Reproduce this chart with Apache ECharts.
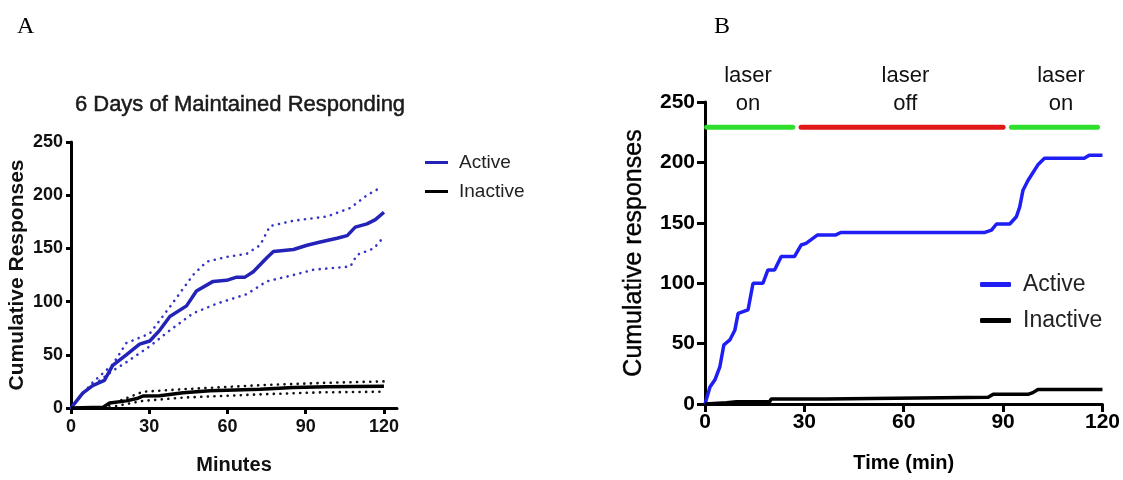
<!DOCTYPE html>
<html>
<head>
<meta charset="utf-8">
<script src="https://cdn.jsdelivr.net/npm/echarts@6/dist/echarts.min.js"></script>
<style>html,body{margin:0;padding:0;background:#fff;}#c{width:1123px;height:480px;}</style>
</head>
<body>
<div id="c"></div>
<script>
// ---------- Panel A data (minutes, cumulative responses) ----------
const A_TITLE = '6 Days of Maintained Responding';
const A_X_TICKS = [0, 30, 60, 90, 120];
const A_ACTIVE = [[0,0],[4.5,14],[8.3,21],[12.8,26],[16,40],[21.2,50],[26.3,60],[30.2,63],[34,73],[37.9,86],[44.3,96],[48.1,110],[54.5,119],[59.7,120],[63.5,123],[66.7,123],[69.9,128],[75,141],[77.6,147],[85.3,149],[90.5,153],[95.6,156],[102,159.5],[105.9,162],[109,170],[113.5,173],[116.7,177],[120,184]];
const A_ACTIVE_UPPER = [[0,0],[4,12],[8.3,24],[16,41],[21.2,61],[30.2,70],[37.9,95],[46.8,125],[52,137.5],[59.7,142],[67.4,145],[72.5,153],[76.3,171],[85.3,176],[98.2,180],[107.1,188],[113.5,200],[119.3,208]];
const A_ACTIVE_LOWER = [[0,0],[4,13],[8.3,21],[16,35],[21.2,43],[30.2,58],[37.9,73],[46.8,89],[55.8,98],[67.4,107],[75,119],[85.3,125],[93,130],[107.1,133],[109.7,144],[116.1,150],[119.3,159]];
const A_INACTIVE = [[0,0],[12.2,0.6],[14.8,4.6],[21.2,6.7],[25.7,9.2],[27.6,11.3],[34,11.6],[43,14.4],[53.2,16.2],[72.5,17.7],[85.3,19.3],[98.2,19.9],[120,20.5]];
const A_INACTIVE_UPPER = [[12.2,0.6],[21.2,9.2],[27.6,15.3],[43,17.7],[72.5,21.4],[95.6,23.5],[120,25]];
const A_INACTIVE_LOWER = [[14.8,0.6],[27.6,6.7],[43,9.8],[72.5,12.8],[95.6,14.7],[120,15.3]];

// ---------- Panel B data (minutes, cumulative responses) ----------
const B_ACTIVE = [[0,0],[1.5,14],[3,20],[4.5,31],[5.7,49],[7.5,53],[9,61],[10,75],[13,78],[14.5,100],[17.5,100],[19,111],[21,111],[23,122],[27,122],[29,131.6],[30.5,133],[34,140],[39.5,140],[41,142],[84.5,142],[86.5,144],[88,149],[92,149],[94,155],[95,163],[96,177],[97.5,185],[100.5,198],[102.5,203.5],[114.5,203.5],[116,206],[120,206]];
const B_INACTIVE = [[0,0],[6.5,1.1],[9.5,1.9],[19.5,1.9],[20,4.1],[36.5,4.1],[37,5.5],[85.5,5.5],[87,8],[97.5,8],[99,9.4],[100.5,12],[120,12]];
const LASER_Y = 229;
const LASER_ON_1 = [[0.5,LASER_Y],[26.5,LASER_Y]];
const LASER_OFF = [[29,LASER_Y],[90,LASER_Y]];
const LASER_ON_2 = [[92.5,LASER_Y],[118.5,LASER_Y]];
const LASER_LABELS = [{x:13, text:'laser\non'}, {x:60.5, text:'laser\noff'}, {x:107.5, text:'laser\non'}];
const Y_MAX = 250, Y_STEP = 50;

const chart = echarts.init(document.getElementById('c'));
const FA = "'Liberation Sans',Arial,sans-serif";
const FB = "'Liberation Sans',Arial,sans-serif";
const A_BLUE = '#2323b8', A_BLUE_DOT = '#3434c8', B_BLUE = '#1e1ef5';

function axisCommon(){
  return {
    axisLine:{show:true,onZero:false,lineStyle:{color:'#000',width:3}},
    axisTick:{show:true,inside:false,lineStyle:{color:'#000',width:3}},
    splitLine:{show:false}
  };
}
function lineSeries(name, data, xi, color, width, dashed){
  return {
    name:name, type:'line', xAxisIndex:xi, yAxisIndex:xi, data:data,
    showSymbol:false, symbol:'none', silent:true, animation:false, clip:false,
    lineStyle:{color:color, width:width, type: dashed ? [0.1,6.5] : 'solid', cap: dashed ? 'round':'butt'},
    z: dashed ? 2 : 3
  };
}

const option = {
  animation:false,
  title:[{
    text:A_TITLE, left:235, top:89, textAlign:'center',
    textStyle:{fontFamily:FB, fontSize:22, fontWeight:'normal', color:'#1a1a1a', textBorderColor:'#1a1a1a', textBorderWidth:0.5}
  }],
  grid:[
    {left:71, top:142, width:326, height:272},
    {left:705, top:102, width:400, height:302}
  ],
  xAxis:[
    Object.assign(axisCommon(), {
      gridIndex:0, type:'value', min:0, max:125,
      axisTick:{show:true,length:6,customValues:A_X_TICKS,lineStyle:{color:'#000',width:3}},
      axisLabel:{customValues:A_X_TICKS, margin:10, fontFamily:FA, fontWeight:'bold', fontSize:18, color:'#111'},
      name:'Minutes', nameLocation:'middle', nameGap:47,
      nameTextStyle:{fontFamily:FA, fontWeight:'bold', fontSize:20, color:'#111'}
    }),
    Object.assign(axisCommon(), {
      gridIndex:1, type:'value', min:0, max:120, interval:30,
      axisTick:{show:true,length:8,lineStyle:{color:'#000',width:3}},
      axisLabel:{margin:8, fontFamily:FB, fontWeight:'bold', fontSize:21, color:'#000'},
      name:'Time (min)', nameLocation:'middle', nameGap:49,
      nameTextStyle:{fontFamily:FB, fontWeight:'bold', fontSize:20, color:'#000'}
    })
  ],
  yAxis:[
    Object.assign(axisCommon(), {
      gridIndex:0, type:'value', min:0, max:Y_MAX, interval:Y_STEP,
      axisTick:{show:true,length:5,lineStyle:{color:'#000',width:3}},
      axisLabel:{margin:8, fontFamily:FA, fontWeight:'bold', fontSize:18, color:'#111'},
      name:'Cumulative Responses', nameLocation:'middle', nameGap:43,
      nameTextStyle:{fontFamily:FB, fontWeight:'bold', fontSize:21, color:'#111'}
    }),
    Object.assign(axisCommon(), {
      gridIndex:1, type:'value', min:0, max:Y_MAX, interval:Y_STEP,
      axisTick:{show:true,length:8,lineStyle:{color:'#000',width:3}},
      axisLabel:{margin:10, fontFamily:FB, fontWeight:'bold', fontSize:21, color:'#000'},
      name:'Cumulative responses', nameLocation:'middle', nameGap:58,
      nameTextStyle:{fontFamily:FB, fontWeight:'normal', fontSize:25, color:'#000', textBorderColor:'#000', textBorderWidth:0.4}
    })
  ],
  legend:[
    {
      left:420, top:148, orient:'vertical', itemGap:10, itemWidth:23, itemHeight:3, icon:'rect',
      selectedMode:false,
      textStyle:{fontFamily:FA, fontSize:19, color:'#222', padding:[0,0,0,6]},
      data:[{name:'Active', itemStyle:{color:A_BLUE}}, {name:'Inactive', itemStyle:{color:'#000'}}]
    },
    {
      left:975, top:268, orient:'vertical', itemGap:13, itemWidth:31, itemHeight:5, icon:'roundRect',
      selectedMode:false,
      textStyle:{fontFamily:FB, fontSize:23, color:'#222', padding:[0,0,0,7]},
      data:[{name:'Active', itemStyle:{color:B_BLUE}}, {name:'Inactive', itemStyle:{color:'#000'}}]
    }
  ],
  series:[
    lineSeries('Active A upper', A_ACTIVE_UPPER, 0, A_BLUE_DOT, 2.6, true),
    lineSeries('Active A lower', A_ACTIVE_LOWER, 0, A_BLUE_DOT, 2.6, true),
    lineSeries('Inactive A upper', A_INACTIVE_UPPER, 0, '#111', 2.6, true),
    lineSeries('Inactive A lower', A_INACTIVE_LOWER, 0, '#111', 2.6, true),
    lineSeries('Active', A_ACTIVE, 0, A_BLUE, 3.5, false),
    lineSeries('Inactive', A_INACTIVE, 0, '#000', 3.5, false),
    lineSeries('Active', B_ACTIVE, 1, B_BLUE, 3.5, false),
    lineSeries('Inactive', B_INACTIVE, 1, '#000', 3.5, false),
    Object.assign(lineSeries('laser on 1', LASER_ON_1, 1, '#2ee02e', 5, false), {lineStyle:{color:'#2ee02e',width:5,cap:'round'}}),
    Object.assign(lineSeries('laser off', LASER_OFF, 1, '#e01818', 5, false), {lineStyle:{color:'#e01818',width:5,cap:'round'}}),
    Object.assign(lineSeries('laser on 2', LASER_ON_2, 1, '#2ee02e', 5, false), {lineStyle:{color:'#2ee02e',width:5,cap:'round'}})
  ]
};
chart.setOption(option);

// Panel letters and laser labels
const graphics = [
  {type:'text', left:17, top:15, style:{text:'A', font:"24px 'Liberation Serif','Times New Roman',serif", fill:'#000'}},
  {type:'text', left:714, top:15, style:{text:'B', font:"24px 'Liberation Serif','Times New Roman',serif", fill:'#000'}}
];
LASER_LABELS.forEach(function(l){
  const px = chart.convertToPixel({gridIndex:1}, [l.x, Y_MAX]);
  graphics.push({type:'text', x:px[0], y:px[1]+16, style:{text:l.text, textAlign:'center', textVerticalAlign:'bottom', font:"22px 'Liberation Sans',Arial,sans-serif", fill:'#111', lineHeight:28}});
});
chart.setOption({graphic:graphics});
</script>
</body>
</html>
